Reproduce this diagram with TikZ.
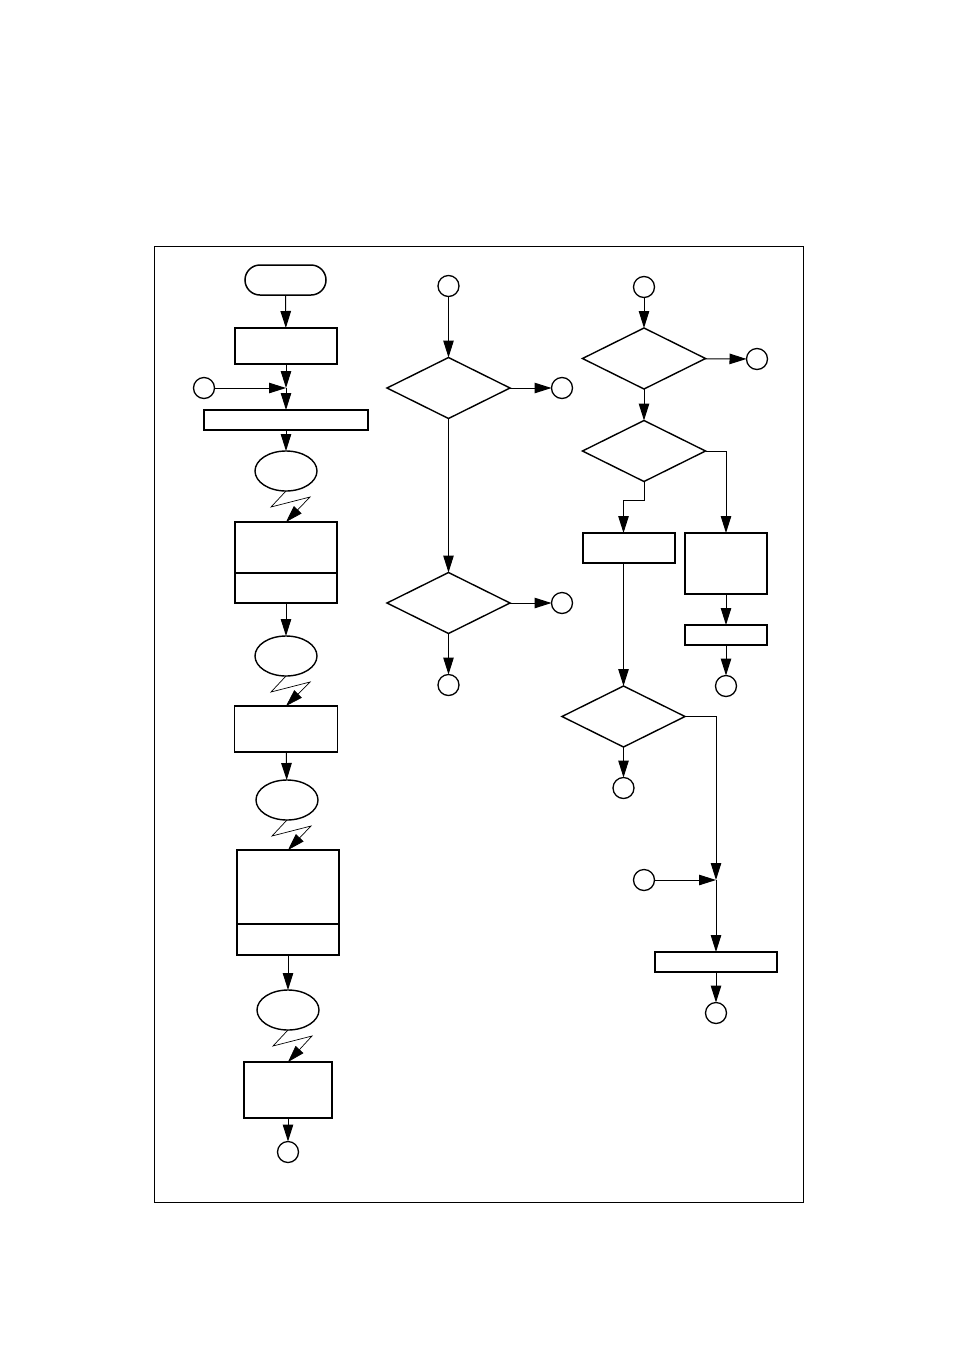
\documentclass[tikz,border=0pt]{standalone}
\usetikzlibrary{arrows.meta,shapes.geometric,positioning}

\begin{document}
\begin{tikzpicture}[
  x=1pt,y=-1pt,
  flow/.style={line width=1pt,-{Triangle[length=17pt,width=10.5pt]}},
  bolt/.style={line width=0.7pt,-{Triangle[length=17pt,width=10.5pt]}},
  terminal/.style={draw,line width=1.5pt,rounded corners=15pt,minimum width=81pt,minimum height=30pt,inner sep=0pt,outer sep=0pt},
  box/.style={draw,line width=1.8pt,inner sep=0pt,outer sep=0pt},
  decision/.style={draw,diamond,line width=1.4pt,aspect=2,minimum width=123pt,minimum height=61pt,inner sep=0pt,outer sep=0pt},
  message/.style={draw,ellipse,line width=1.4pt,minimum width=62pt,minimum height=40pt,inner sep=0pt,outer sep=0pt},
  conn/.style={draw,circle,line width=1.3pt,minimum size=21pt,inner sep=0pt,outer sep=0pt}
]
  \useasboundingbox (0,0) rectangle (954,1350);
  \draw[line width=0.9pt] (154,246) rectangle (803,1202);

  \node[terminal] (start) at (285.5,280) {};
  \node[box,minimum width=102pt,minimum height=36pt] (prep) at (286,346) {};
  \node[conn] (loopin) at (204,388) {};
  \coordinate (join1) at (286,388);
  \node[box,minimum width=164pt,minimum height=20pt] (init) at (286,420) {};
  \node[message] (send1) at (286,471) {};
  \node[box,minimum width=102pt,minimum height=81pt] (recv1) at (286,562.5) {};
  \node[message] (send2) at (286,656) {};
  \node[box,minimum width=103pt,minimum height=46pt] (recv2) at (286,729) {};
  \node[message] (send3) at (287,800) {};
  \node[box,minimum width=102pt,minimum height=105pt] (recv3) at (288,902.5) {};
  \node[message] (send4) at (288,1010) {};
  \node[box,minimum width=88pt,minimum height=56pt] (recv4) at (288,1090) {};
  \node[conn] (out1) at (288,1152) {};

  \draw[line width=1.3pt] ([yshift=-51pt]recv1.north west) -- ([yshift=-51pt]recv1.north east);
  \draw[line width=1.3pt] ([yshift=-74pt]recv3.north west) -- ([yshift=-74pt]recv3.north east);

  \draw[flow] (start) -- (prep);
  \draw[flow] (prep) -- (join1);
  \draw[flow] (loopin) -- (join1);
  \draw[flow] (join1) -- (init);
  \draw[flow] (init) -- (send1);
  \draw[bolt] (send1.south) -- ++(-15,16) -- ++(39,-10) -- (recv1.north);
  \draw[flow] (recv1) -- (send2);
  \draw[bolt] (send2.south) -- ++(-15,16) -- ++(39,-10) -- (recv2.north);
  \draw[flow] (recv2) -- (send3);
  \draw[bolt] (send3.south) -- ++(-15,16) -- ++(39,-10) -- (recv3.north);
  \draw[flow] (recv3) -- (send4);
  \draw[bolt] (send4.south) -- ++(-15,16) -- ++(39,-10) -- (recv4.north);
  \draw[flow] (recv4) -- (out1);

  \node[conn] (in2) at (448.5,286) {};
  \node[decision] (dec1) at (448.5,388) {};
  \node[conn] (out2a) at (562,388) {};
  \node[decision] (dec2) at (448.5,603) {};
  \node[conn] (out2b) at (562,603) {};
  \node[conn] (out2c) at (448.5,685) {};

  \draw[flow] (in2) -- (dec1);
  \draw[flow] (dec1) -- (out2a);
  \draw[flow] (dec1) -- (dec2);
  \draw[flow] (dec2) -- (out2b);
  \draw[flow] (dec2) -- (out2c);

  \node[conn] (in3) at (644,287) {};
  \node[decision] (dec3) at (644,358.5) {};
  \node[conn] (out3a) at (757,359) {};
  \node[decision] (dec4) at (644,451) {};
  \node[box,minimum width=92pt,minimum height=30pt] (left3) at (629,548) {};
  \node[box,minimum width=82pt,minimum height=61pt] (right3) at (726,563.5) {};
  \node[box,minimum width=82pt,minimum height=20pt] (rightb) at (726,635) {};
  \node[conn] (out3b) at (726,686) {};
  \node[decision] (dec5) at (623.5,716.5) {};
  \node[conn] (out3c) at (623.5,788) {};
  \coordinate (join2) at (716,880);
  \node[conn] (in3b) at (644,880) {};
  \node[box,minimum width=122pt,minimum height=20pt] (final) at (716,962) {};
  \node[conn] (out3d) at (716,1013) {};

  \draw[flow] (in3) -- (dec3);
  \draw[flow] (dec3) -- (out3a);
  \draw[flow] (dec3) -- (dec4);
  \draw[flow] (dec4.south) -- ++(0,19) -| (left3.north -| dec5.north);
  \draw[flow] (dec4.east) -| (right3.north);
  \draw[flow] (right3) -- (rightb);
  \draw[flow] (rightb) -- (out3b);
  \draw[flow] (left3.south -| dec5.north) -- (dec5.north);
  \draw[flow] (dec5) -- (out3c);
  \draw[flow] (dec5.east) -| (join2);
  \draw[flow] (in3b) -- (join2);
  \draw[flow] (join2) -- (final);
  \draw[flow] (final) -- (out3d);
\end{tikzpicture}
\end{document}
